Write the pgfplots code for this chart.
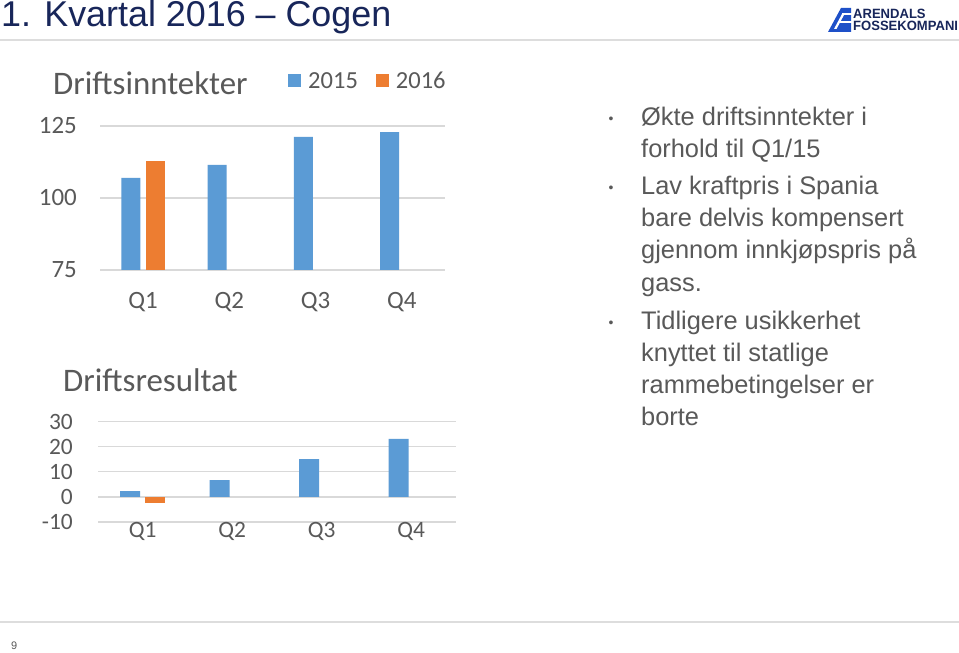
\documentclass[border=0pt]{standalone}
\usepackage{fontspec}
\setmainfont{Liberation Sans}
\newfontfamily\calibri{Carlito}
\usepackage{pgfplots}
\pgfplotsset{compat=1.18}
\definecolor{ublue}{HTML}{5B9BD5}
\definecolor{uorange}{HTML}{ED7D31}
\definecolor{ugray}{HTML}{595959}
\definecolor{ugrid}{HTML}{D9D9D9}
\definecolor{navy}{HTML}{18265A}
\definecolor{logoblue}{HTML}{1E50C8}
\definecolor{sep}{HTML}{DDDDDD}

\pgfplotsset{
  slide/.style={
    scale only axis,
    xmin=-0.5, xmax=3.5,
    xtick={0,1,2,3}, xticklabels={Q1,Q2,Q3,Q4},
    axis line style={draw=none},
    major tick length=0pt,
    ymajorgrids,
    major grid style={ugrid, line width=1.3bp},
    /pgf/number format/assume math mode=true,
    legend image code/.code={\fill[##1] (0bp,-6.5bp) rectangle (13bp,6.5bp);},
  }
}

\begin{document}
\begin{tikzpicture}[x=1bp,y=1bp]
\useasboundingbox (0,0) rectangle (959,653);
\fill[white] (0,0) rectangle (959,653);

% header
\node[anchor=base west, inner sep=0, text=navy, font=\fontsize{36}{36}\selectfont] at (1,626) {1. Kvartal 2016 -- Cogen};
\draw[sep, line width=1.5bp] (0,613) -- (959,613);
% logo
\fill[logoblue] (828,621) -- (841,645) -- (851,645) -- (851,621) -- cycle;
\fill[white] (842,637.5) rectangle (852,640);
\fill[white] (838,629.5) rectangle (852,632);
\fill[white] (834,624) -- (842,639) -- (844.5,639) -- (836.5,624) -- cycle;
\node[anchor=base west, inner sep=0, text=navy, font=\bfseries\fontsize{13.5}{13.5}\selectfont, xscale=0.97, transform shape] at (853,634) {ARENDALS};
\node[anchor=base west, inner sep=0, text=navy, font=\bfseries\fontsize{13.5}{13.5}\selectfont, xscale=0.97, transform shape] at (853,622) {FOSSEKOMPANI};

% footer
\draw[sep, line width=1.5bp] (0,31) -- (959,31);
\node[anchor=base west, inner sep=0, text=ugray, font=\fontsize{11}{11}\selectfont] at (11,3) {9};

% chart titles
\node[anchor=base west, inner sep=0, text=ugray, font=\calibri\fontsize{33}{33}\selectfont] at (53,558) {Driftsinntekter};
\node[anchor=base west, inner sep=0, text=ugray, font=\calibri\fontsize{33}{33}\selectfont] at (63,261) {Driftsresultat};

% top chart
\begin{axis}[slide,
  at={(100bp,383bp)}, anchor=south west,
  width=345bp, height=144bp,
  ymin=75, ymax=125, ytick={75,100,125},
  tick label style={font=\calibri\fontsize{25}{25}\selectfont, text=ugray},
  yticklabel style={anchor=east, inner sep=0pt, xshift=-23bp},
  xticklabel style={anchor=base, inner sep=0pt, yshift=-39bp},
  legend style={at={(0.545,1.3125)}, anchor=west, draw=none, fill=none,
    legend columns=-1, font=\calibri\fontsize{24.6}{25}\selectfont, text=ugray,
    inner sep=0pt, nodes={inner sep=0pt},
    /tikz/every odd column/.append style={column sep=7bp},
    /tikz/every even column/.append style={column sep=18bp}},
]
\addplot[ybar, bar width=19bp, bar shift=-12.3bp, fill=ublue, draw=none]
  coordinates {(0,107.0) (1,111.5) (2,121.2) (3,122.9)};
\addlegendentry{2015}
\addplot[ybar, bar width=19bp, bar shift=12.3bp, fill=uorange, draw=none]
  coordinates {(0,112.8)};
\addlegendentry{2016}
\end{axis}

% bottom chart
\begin{axis}[slide,
  at={(98bp,131bp)}, anchor=south west,
  width=358bp, height=100.3bp,
  ymin=-10, ymax=30, ytick={-10,0,10,20,30},
  tick label style={font=\calibri\fontsize{23.5}{23.5}\selectfont, text=ugray},
  yticklabel style={anchor=east, inner sep=0pt, xshift=-25bp},
  xticklabel style={anchor=base, inner sep=0pt, yshift=-16bp},
]
\addplot[ybar, bar width=20bp, bar shift=-12.75bp, fill=ublue, draw=none]
  coordinates {(0,2.3) (1,6.7) (2,15.1) (3,23.1)};
\addplot[ybar, bar width=20bp, bar shift=12.5bp, fill=uorange, draw=none]
  coordinates {(0,-2.4)};
\end{axis}

% bullet text
\begin{scope}[every node/.style={anchor=base west, inner sep=0, text=ugray, font=\fontsize{25.5}{26}\selectfont}]
\node at (641,527) {Økte driftsinntekter i};
\node at (641,495) {forhold til Q1/15};
\node at (641,458) {Lav kraftpris i Spania};
\node at (641,426) {bare delvis kompensert};
\node at (641,394) {gjennom innkjøpspris på};
\node at (641,361.5) {gass.};
\node at (641,323) {Tidligere usikkerhet};
\node at (641,291) {knyttet til statlige};
\node at (641,259) {rammebetingelser er};
\node at (641,227) {borte};
\end{scope}
\begin{scope}[every node/.style={anchor=base, inner sep=0, text=ugray, font=\fontsize{14}{14}\selectfont}]
\node at (611,529) {•};
\node at (611,460) {•};
\node at (611,325) {•};
\end{scope}
\end{tikzpicture}
\end{document}
